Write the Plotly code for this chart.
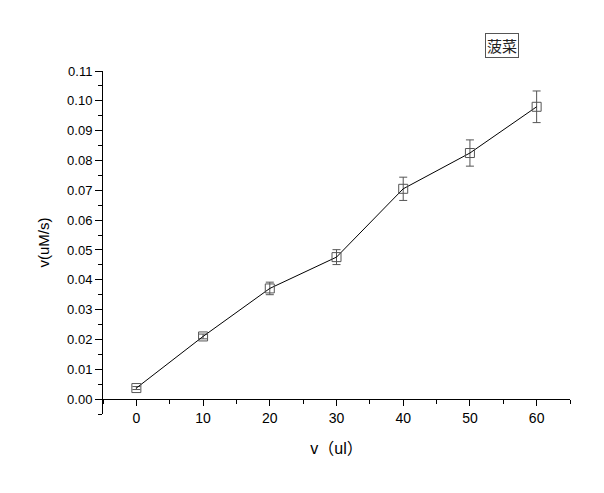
import plotly.graph_objects as go

x_vals = [0, 10, 20, 30, 40, 50, 60]
y_vals = [0.0037, 0.0210, 0.0371, 0.0476, 0.0705, 0.0825, 0.0980]
y_err = [0.0005, 0.0008, 0.0021, 0.0025, 0.0039, 0.0044, 0.0053]
x_ticks = [0, 10, 20, 30, 40, 50, 60]
y_ticks = [0.00, 0.01, 0.02, 0.03, 0.04, 0.05, 0.06, 0.07, 0.08, 0.09, 0.10, 0.11]
legend_label = "菠菜"

fig = go.Figure()
fig.add_trace(go.Scatter(
    x=x_vals, y=y_vals, mode="lines+markers",
    line=dict(color="black", width=1),
    marker=dict(symbol="square-open", size=9, color="#555555", line=dict(width=1)),
    error_y=dict(type="data", array=y_err, visible=True, color="#555555", thickness=1, width=4),
    showlegend=False,
))

# page offset of 8px compensated in margins
W, H = 596, 485
L, R, T, B = 95, 34, 63, 79
plot_w = W - L - R
plot_h = H - T - B
yrange = [-0.005, 0.11]
pos0 = (0 - yrange[0]) / (yrange[1] - yrange[0])

fig.update_layout(
    width=W, height=H,
    margin=dict(l=L, r=R, t=T, b=B),
    paper_bgcolor="white", plot_bgcolor="white",
    font=dict(family="Liberation Sans, Arial", size=13, color="black"),
    xaxis=dict(
        range=[-5, 65], tickvals=x_ticks, ticktext=[str(v) for v in x_ticks],
        showgrid=False, zeroline=False, showline=True, linecolor="black", linewidth=1,
        ticks="outside", ticklen=6, tickcolor="black",
        minor=dict(dtick=5, tick0=0, ticks="outside", ticklen=4, tickcolor="black"),
        anchor="free", position=pos0,
        title=dict(text="v（ul）", font=dict(size=16, family="Liberation Sans, Noto Sans CJK SC"), standoff=17),
        tickfont=dict(size=14),
    ),
    yaxis=dict(
        range=yrange, tickvals=y_ticks, ticktext=[f"{v:.2f}" for v in y_ticks],
        showgrid=False, zeroline=False, showline=True, linecolor="black", linewidth=1,
        ticks="outside", ticklen=7, tickcolor="black",
        minor=dict(dtick=0.005, tick0=0, ticks="outside", ticklen=4, tickcolor="black"),
        title=dict(text="v(uM/s)", font=dict(size=15), standoff=13),
        tickfont=dict(size=13),
        automargin=False,
    ),
    annotations=[dict(
        text=legend_label, xref="paper", yref="paper",
        x=(494 - L) / plot_w, y=(H - B - 38) / plot_h,
        xanchor="center", yanchor="middle",
        showarrow=False, font=dict(size=15, family="Noto Sans CJK SC", color="#222222"),
        bordercolor="#555555", borderwidth=1, borderpad=1, bgcolor="white",
    )],
)

fig.write_html("out.html")
